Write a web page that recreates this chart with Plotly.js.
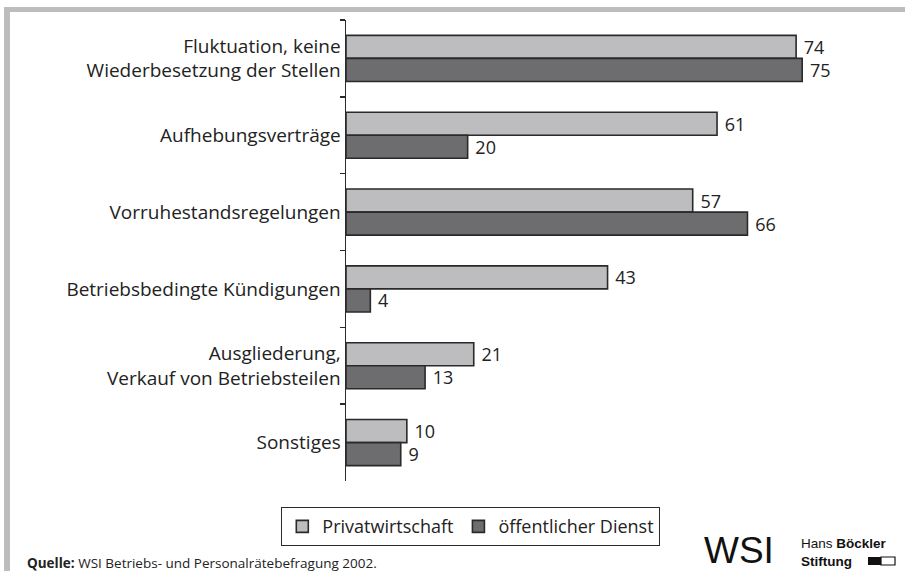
<!DOCTYPE html>
<html>
<head>
<meta charset="utf-8">
<script src="https://cdn.plot.ly/plotly-3.0.1.min.js"></script>
<style>html,body{margin:0;padding:0;background:#fff;}#chart{width:905px;height:571px;}</style>
</head>
<body>
<div id="chart"></div>
<script>
const categories = [
  "Fluktuation, keine<br>Wiederbesetzung der Stellen",
  "Aufhebungsverträge",
  "Vorruhestandsregelungen",
  "Betriebsbedingte Kündigungen",
  "Ausgliederung,<br>Verkauf von Betriebsteilen",
  "Sonstiges"
];
const seriesNames = ["Privatwirtschaft", "öffentlicher Dienst"];
const privatwirtschaft = [74, 61, 57, 43, 21, 10];
const oeffentlicherDienst = [75, 20, 66, 4, 13, 9];

const FONT = "Open Sans, DejaVu Sans, sans-serif";

const traces = [
  {
    type: "bar", orientation: "h", name: seriesNames[0],
    y: categories, x: privatwirtschaft,
    text: privatwirtschaft.map(v => "\u00a0" + v), textposition: "outside", cliponaxis: false, constraintext: "none",
    textfont: {family: FONT, size: 18, color: "#222"},
    marker: {color: "#bdbdc0", line: {color: "#2a2a2a", width: 1.6}},
    hoverinfo: "none"
  },
  {
    type: "bar", orientation: "h", name: seriesNames[1],
    y: categories, x: oeffentlicherDienst,
    text: oeffentlicherDienst.map(v => "\u00a0" + v), textposition: "outside", cliponaxis: false, constraintext: "none",
    textfont: {family: FONT, size: 18, color: "#222"},
    marker: {color: "#6d6d6f", line: {color: "#2a2a2a", width: 1.6}},
    hoverinfo: "none"
  }
];

const layout = {
  width: 905, height: 571,
  paper_bgcolor: "#fff", plot_bgcolor: "#fff",
  margin: {l: 346, r: 0, t: 20, b: 90},
  barmode: "group", bargap: 0.4, bargroupgap: 0,
  font: {family: FONT, size: 19, color: "#222"},
  xaxis: {range: [0, 91.9], visible: false, fixedrange: true},
  yaxis: {
    autorange: "reversed", type: "category",
    showline: true, linecolor: "#2a2a2a", linewidth: 1.5,
    ticks: "outside", tickson: "boundaries", ticklen: 5, tickwidth: 1.5, tickcolor: "#2a2a2a",
    showgrid: false, zeroline: false,
    tickfont: {family: FONT, size: 19, color: "#222"}
  },
  showlegend: true,
  legend: {
    orientation: "h", xref: "container", yref: "container",
    x: 0.52, xanchor: "center", y: 1 - 507/571, yanchor: "top",
    bordercolor: "#2a2a2a", borderwidth: 1.2, bgcolor: "#fff",
    font: {family: FONT, size: 18, color: "#222"},
    itemwidth: 30, traceorder: "normal"
  },
  shapes: [
    {type: "rect", xref: "paper", yref: "paper", x0: -342/559, x1: -336/559, y0: -90/461, y1: 1 + 13/461, fillcolor: "#bdbdbd", line: {width: 0}, layer: "below"},
    {type: "rect", xref: "paper", yref: "paper", x0: -336/559, x1: 1, y0: 1 + 8/461, y1: 1 + 13/461, fillcolor: "#bdbdbd", line: {width: 0}, layer: "below"},
    {type: "rect", xref: "paper", yref: "paper", x0: (868-346)/559, x1: (881-346)/559, y0: -(565-481)/461, y1: -(557-481)/461, fillcolor: "#111", line: {width: 0}},
    {type: "rect", xref: "paper", yref: "paper", x0: (881-346)/559, x1: (895-346)/559, y0: -(565-481)/461, y1: -(557-481)/461, fillcolor: "#fff", line: {color: "#111", width: 1.2}}
  ],
  annotations: [
    {xref: "paper", yref: "paper", x: (22-346)/559, y: 1 + 20/461, xanchor: "left", yanchor: "bottom", showarrow: false,
     text: "g", font: {family: FONT, size: 17, color: "#222"}},
    {xref: "paper", yref: "paper", x: (25-346)/559, y: -(563-481)/461, xanchor: "left", yanchor: "middle", showarrow: false,
     text: "<b>Quelle:</b> WSI Betriebs- und Personalrätebefragung 2002.", font: {family: FONT, size: 13.5, color: "#222"}},
    {xref: "paper", yref: "paper", x: (702-346)/559, y: -(550-481)/461, xanchor: "left", yanchor: "middle", showarrow: false,
     text: "WSI", font: {family: "Liberation Sans, Arial, sans-serif", size: 37, color: "#111"}},
    {xref: "paper", yref: "paper", x: (800-346)/559, y: -(570-481)/461, xanchor: "left", yanchor: "bottom", showarrow: false, align: "left", borderpad: 0,
     text: "Hans <b>Böckler</b><br><b>Stiftung</b>", font: {family: "Liberation Sans, Arial, sans-serif", size: 13.5, color: "#111"}}
  ]
};

Plotly.newPlot("chart", traces, layout, {displayModeBar: false, staticPlot: true});
</script>
</body>
</html>
